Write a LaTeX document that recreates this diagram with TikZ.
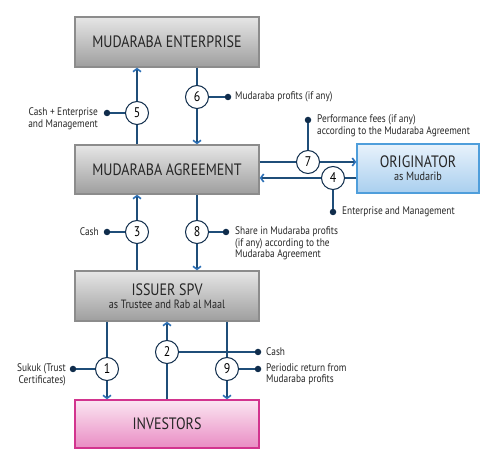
\documentclass[tikz,border=0pt]{standalone}
\usepackage{fontspec}
\setmainfont{PT Sans}[FakeStretch=0.85]
\usetikzlibrary{arrows.meta,calc}
\definecolor{linec}{HTML}{1F4E79}
\definecolor{arrowc}{HTML}{2A6EB5}
\definecolor{dotc}{HTML}{102D4C}
\definecolor{grayb}{HTML}{8C8C8C}
\definecolor{graytop}{HTML}{E6E6E6}
\definecolor{graybot}{HTML}{9E9E9E}
\definecolor{blueb}{HTML}{4F9EDB}
\definecolor{bluetop}{HTML}{E8F2FB}
\definecolor{bluebot}{HTML}{A9CFEF}
\definecolor{pinkb}{HTML}{D2348E}
\definecolor{pinktop}{HTML}{FBE6F2}
\definecolor{pinkbot}{HTML}{E98CC3}
\newcommand{\ttl}{\fontsize{16.5}{18}\selectfont}
\newcommand{\subt}{\fontsize{12}{14}\selectfont}
\begin{document}
\begin{tikzpicture}[x=1pt,y=-1pt,
  box/.style={rectangle, inner sep=0pt, line width=1.4pt, align=center, text=black!85},
  graybox/.style={box, draw=grayb, top color=graytop, bottom color=graybot, minimum width=184pt},
  bluebox/.style={box, draw=blueb, top color=bluetop, bottom color=bluebot, minimum width=122pt, minimum height=49pt},
  pinkbox/.style={box, draw=pinkb, top color=pinktop, bottom color=pinkbot, minimum width=184pt, minimum height=48pt},
  num/.style={circle, draw=dotc, fill=white, line width=1pt, minimum size=23pt, inner sep=0pt, font=\fontsize{14}{14}\selectfont},
  dot/.style={circle, fill=dotc, minimum size=6.5pt, inner sep=0pt},
  lbl/.style={inner sep=0pt, font=\fontsize{11}{11.5}\selectfont, text=black!85},
  ln/.style={draw=linec, line width=1.1pt},
  flow/.style={ln, -{Straight Barb[length=3pt, width=8pt, line width=1.6pt, color=arrowc]}}
]
\useasboundingbox (0,0) rectangle (499,462);

% boxes
\node[graybox, minimum height=50pt] (ent) at (167,42) {\ttl MUDARABA ENTERPRISE};
\node[graybox, minimum height=49pt] (agr) at (167,169.5) {\ttl MUDARABA AGREEMENT};
\node[bluebox] (orig) at (418,168.5) {\ttl ORIGINATOR\\[1pt]\subt as Mudarib};
\node[graybox, minimum height=50pt] (spv) at (167,296) {\ttl ISSUER SPV\\[1pt]\subt as Trustee and Rab al Maal};
\node[pinkbox] (inv) at (167,424) {\ttl INVESTORS};

% numbered circles
\node[num] (c5) at (137,113) {5};
\node[num] (c6) at (197,97) {6};
\node[num] (c7) at (308,162) {7};
\node[num] (c4) at (333,178) {4};
\node[num] (c3) at (137,232) {3};
\node[num] (c8) at (197,232) {8};
\node[num] (c1) at (107,369) {1};
\node[num] (c2) at (167,352) {2};
\node[num] (c9) at (227,369) {9};

% dots
\node[dot] (d5) at (107,113) {};
\node[dot] (d6) at (228,97) {};
\node[dot] (d7) at (308,120) {};
\node[dot] (d4) at (333,212) {};
\node[dot] (d3) at (107,232) {};
\node[dot] (d8) at (226,232) {};
\node[dot] (d1) at (73,369) {};
\node[dot] (d2) at (258,352) {};
\node[dot] (d9) at (258,369) {};

% labels
\node[lbl, anchor=north east, align=right] (t5) at ($(d5)+(-9,-5.5)$) {Cash + Enterprise\\and Management};
\node[lbl, anchor=west] (t6) at ($(d6)+(7,0)$) {Mudaraba profits (if any)};
\node[lbl, anchor=north west, align=left] (t7) at ($(d7)+(9,-5.5)$) {Performance fees (if any)\\according to the Mudaraba Agreement};
\node[lbl, anchor=west] (t4) at ($(d4)+(9,0)$) {Enterprise and Management};
\node[lbl, anchor=east] (t3) at ($(d3)+(-8,0)$) {Cash};
\node[lbl, anchor=north west, align=left] (t8) at ($(d8)+(9,-5.5)$) {Share in Mudaraba profits\\(if any) according to the\\Mudaraba Agreement};
\node[lbl, anchor=north east, align=right] (t1) at ($(d1)+(-7,-5.5)$) {Sukuk (Trust\\Certificates)};
\node[lbl, anchor=west] (t2) at ($(d2)+(8,0)$) {Cash};
\node[lbl, anchor=north west, align=left] (t9) at ($(d9)+(8,-5.5)$) {Periodic return from\\Mudaraba profits};

% connectors to dots
\draw[ln] (d5) -- (c5.west);
\draw[ln] (c6.east) -- (d6);
\draw[ln] (c7.north) -- (d7);
\draw[ln] (c4.south) -- (d4);
\draw[ln] (d3) -- (c3.west);
\draw[ln] (c8.east) -- (d8);
\draw[ln] (d1) -- (c1.west);
\draw[ln] (c2.east) -- (d2);
\draw[ln] (c9.east) -- (d9);

% flows
\draw[ln] (agr.north -| c5) -- (c5.south);
\draw[flow] (c5.north) -- (ent.south -| c5);
\draw[ln] (ent.south -| c6) -- (c6.north);
\draw[flow] (c6.south) -- (agr.north -| c6);
\draw[ln] (agr.east |- c7) -- (c7.west);
\draw[flow] (c7.east) -- (orig.west |- c7);
\draw[ln] (orig.west |- c4) -- (c4.east);
\draw[flow] (c4.west) -- (agr.east |- c4);
\draw[ln] (spv.north -| c3) -- (c3.south);
\draw[flow] (c3.north) -- (agr.south -| c3);
\draw[ln] (agr.south -| c8) -- (c8.north);
\draw[flow] (c8.south) -- (spv.north -| c8);
\draw[ln] (spv.south -| c1) -- (c1.north);
\draw[flow] (c1.south) -- (inv.north -| c1);
\draw[ln] (inv.north -| c2) -- (c2.south);
\draw[flow] (c2.north) -- (spv.south -| c2);
\draw[ln] (spv.south -| c9) -- (c9.north);
\draw[flow] (c9.south) -- (inv.north -| c9);
\end{tikzpicture}
\end{document}
